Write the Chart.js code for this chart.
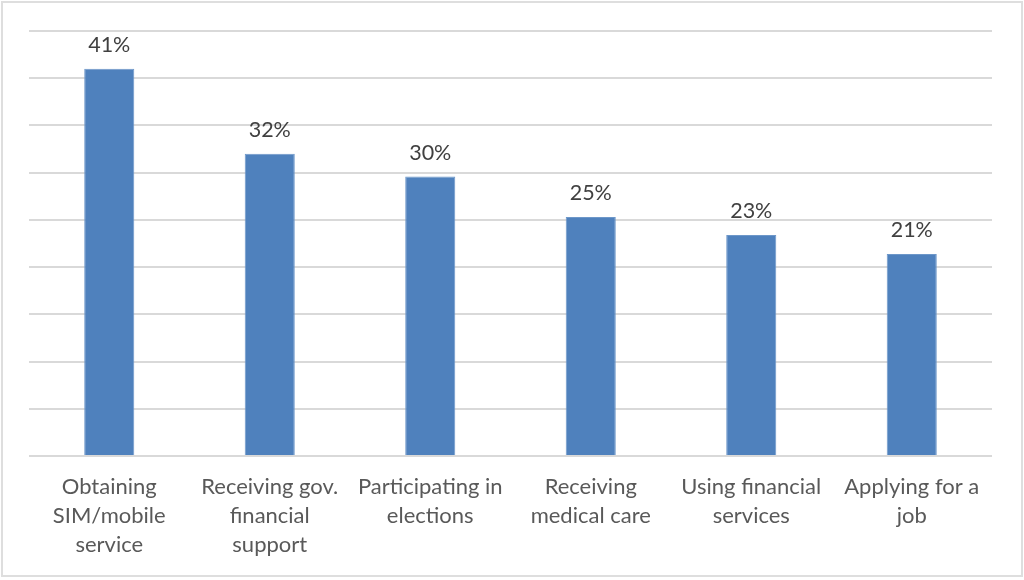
<!DOCTYPE html>
<html>
<head>
<meta charset="utf-8">
<script src="https://cdn.jsdelivr.net/npm/chart.js@4/dist/chart.umd.min.js"></script>
<style>
    html, body { margin: 0; padding: 0; background: #fff; }
    #frame {
        position: absolute; left: 1px; top: 1px;
        width: 1018px; height: 572px;
        border: 2px solid #dedede;
    }
    #wrap { position: absolute; left: 0; top: 0; width: 1024px; height: 580px; }
</style>
</head>
<body>
<div id="frame"></div>
<div id="wrap"><canvas id="grafico"></canvas></div>
<script>
// categorias e valores
const categorias = [
    ['Obtaining', 'SIM/mobile', 'service'],
    ['Receiving gov.', 'financial', 'support'],
    ['Participating in', 'elections'],
    ['Receiving', 'medical care'],
    ['Using financial', 'services'],
    ['Applying for a', 'job']
];
const valores = [41.0, 32.0, 29.6, 25.3, 23.4, 21.4];
const rotulos = ['41%', '32%', '30%', '25%', '23%', '21%'];
const eixoMax = 45;
const eixoPasso = 5;

// desenha os rotulos acima das barras
const rotulosPlugin = {
    id: 'rotulos',
    afterDatasetsDraw(chart) {
        const ctx = chart.ctx;
        const meta = chart.getDatasetMeta(0);
        ctx.save();
        ctx.font = '21.5px Lato';
        ctx.fillStyle = '#404040';
        ctx.textAlign = 'center';
        ctx.textBaseline = 'bottom';
        meta.data.forEach((bar, i) => {
            ctx.fillText(rotulos[i], bar.x, bar.y - 13);
        });
        ctx.restore();
    }
};

const config = {
    type: 'bar',
    data: {
        labels: categorias,
        datasets: [{
            data: valores,
            backgroundColor: '#4F81BD',
            borderColor: '#6d97c9',
            borderWidth: 1,
            barPercentage: 1,
            categoryPercentage: 0.312
        }]
    },
    options: {
        responsive: false,
        animation: false,
        layout: { padding: { left: 29, right: 32, top: 31, bottom: 0 } },
        plugins: { legend: { display: false }, tooltip: { enabled: false } },
        scales: {
            x: {
                grid: { display: false },
                border: { display: false },
                ticks: {
                    color: '#595959',
                    font: { family: 'Lato', size: 22, lineHeight: 1.3 },
                    padding: 9,
                    maxRotation: 0,
                    autoSkip: false
                },
                afterFit: (scale) => { scale.height = 124; }
            },
            y: {
                min: 0,
                max: eixoMax,
                ticks: { display: false, stepSize: eixoPasso },
                grid: { color: '#d9d9d9', lineWidth: 2, drawTicks: false },
                border: { display: false },
                afterFit: (scale) => { scale.width = 0; }
            }
        }
    },
    plugins: [rotulosPlugin]
};

const canvas = document.getElementById('grafico');
canvas.width = 1024;
canvas.height = 580;
new Chart(canvas.getContext('2d'), config);
</script>
</body>
</html>
